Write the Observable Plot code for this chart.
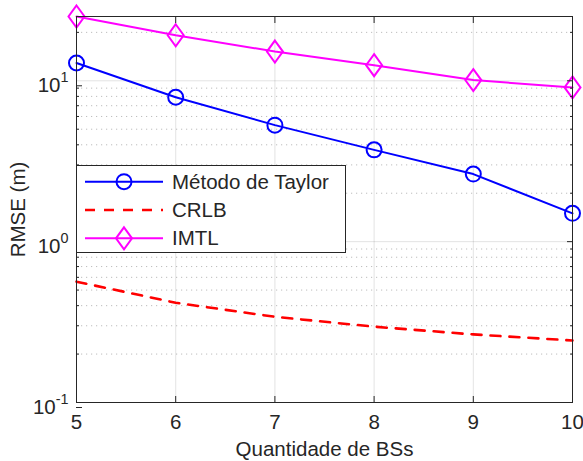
<!DOCTYPE html>
<html><head><meta charset="utf-8">
<script src="https://cdn.jsdelivr.net/npm/d3@7"></script>
<script src="https://cdn.jsdelivr.net/npm/@observablehq/plot@0.6"></script>
<style>
body{margin:0;background:#fff;}
#chart svg{display:block;}
</style></head><body><div id="chart"></div>
<script>
// ---- data ----
const bsCount = [5, 6, 7, 8, 9, 10];
const taylor = [12.9, 7.9, 5.3, 3.72, 2.63, 1.50];
const crlb = [0.564, 0.417, 0.341, 0.296, 0.265, 0.243];
const imtl = [25.1, 19.2, 15.2, 12.5, 10.1, 9.1];
const seriesNames = ["Método de Taylor", "CRLB", "IMTL"];
const yMajorTicks = [0.1, 1, 10];
const yTickExponents = ["-1", "0", "1"];
const yMinorTicks = [0.2, 0.3, 0.4, 0.5, 0.6, 0.7, 0.8, 0.9, 2, 3, 4, 5, 6, 7, 8, 9, 20];
const xLabel = "Quantidade de BSs";
const yLabel = "RMSE (m)";

const FONT = "'Liberation Sans', Arial, Helvetica, sans-serif";
const FS = 20.5;
const INK = "#262626";
const table = bsCount.map((x, i) => ({x, taylor: taylor[i], crlb: crlb[i], imtl: imtl[i]}));

const tallDiamond = {
  draw(ctx, size) {
    const r = Math.sqrt(size / Math.PI);
    const hw = r, hh = r * 1.375;
    ctx.moveTo(0, -hh); ctx.lineTo(hw, 0); ctx.lineTo(0, hh); ctx.lineTo(-hw, 0); ctx.closePath();
  }
};

const chart = Plot.plot({
  width: 583, height: 461,
  marginLeft: 76, marginRight: 11, marginTop: 16, marginBottom: 59,
  style: {fontFamily: FONT, fontSize: FS + "px", color: INK, background: "#fff"},
  x: {domain: [5, 10]},
  y: {type: "log", domain: [0.1, 25.1]},
  marks: [
    Plot.gridY(yMinorTicks, {stroke: INK, strokeOpacity: 0.3, strokeDasharray: "1.2,3.8"}),
    Plot.gridY(yMajorTicks, {stroke: INK, strokeOpacity: 0.13}),
    Plot.gridX(bsCount, {stroke: INK, strokeOpacity: 0.13}),
    Plot.line(table, {x: "x", y: "crlb", stroke: "#ff0000", strokeWidth: 2.6, strokeDasharray: "10,9"}),
    Plot.line(table, {x: "x", y: "taylor", stroke: "#0000ff", strokeWidth: 2}),
    Plot.dot(table, {x: "x", y: "taylor", r: 7.5, stroke: "#0000ff", strokeWidth: 2, fill: "none"}),
    Plot.line(table, {x: "x", y: "imtl", stroke: "#ff00ff", strokeWidth: 2}),
    Plot.dot(table, {x: "x", y: "imtl", r: 8, symbol: tallDiamond, stroke: "#ff00ff", strokeWidth: 2, fill: "none"}),
    Plot.frame({stroke: INK, strokeWidth: 1}),
    Plot.axisY(yMajorTicks, {anchor: "left", tickSize: -6, tickPadding: 14, dy: 5, label: null,
      tickFormat: d => yTickExponents[yMajorTicks.indexOf(d)]}),
    Plot.axisY(yMinorTicks, {anchor: "left", tickSize: -3, tickFormat: () => "", label: null}),
    Plot.axisY(yMajorTicks, {anchor: "right", tickSize: -6, tickFormat: () => "", label: null}),
    Plot.axisY(yMinorTicks, {anchor: "right", tickSize: -3, tickFormat: () => "", label: null}),
    Plot.axisX(bsCount, {anchor: "bottom", tickSize: -6, tickPadding: 18, label: null, tickFormat: d => String(d)}),
    Plot.axisX(bsCount, {anchor: "top", tickSize: -6, tickFormat: () => "", label: null}),
    Plot.text([xLabel], {frameAnchor: "bottom", lineAnchor: "middle", dy: 47, text: d => d, fill: INK, fontSize: FS}),
    Plot.text([yLabel], {frameAnchor: "left", lineAnchor: "middle", textAnchor: "middle", dx: -58, rotate: -90, text: d => d, fill: INK, fontSize: FS})
  ]
});

// superscript exponents on the log axis labels
d3.select(chart).selectAll('g[aria-label="y-axis tick label"] text').each(function () {
  const e = this.textContent;
  if (!e) return;
  const s = d3.select(this);
  s.text("10");
  s.append("tspan").attr("dy", "-0.7em").attr("font-size", "0.7em").text(e);
});

// legend box inside the axes
const lg = d3.select(chart).append("g").attr("font-family", FONT).attr("font-size", FS)
  .attr("fill", INK).attr("text-anchor", "start");
lg.append("rect").attr("x", 76.5).attr("y", 165.5).attr("width", 269).attr("height", 87)
  .attr("fill", "#fff").attr("stroke", INK).attr("stroke-width", 1);
const rowsY = [181.7, 210, 238.3];
const styles = [
  {stroke: "#0000ff", w: 2, dash: null, marker: "circle"},
  {stroke: "#ff0000", w: 2.6, dash: "10,9", marker: null},
  {stroke: "#ff00ff", w: 2, dash: null, marker: "diamond"}
];
seriesNames.forEach((name, i) => {
  const y = rowsY[i], st = styles[i];
  lg.append("line").attr("x1", 85).attr("x2", 163).attr("y1", y).attr("y2", y)
    .attr("stroke", st.stroke).attr("stroke-width", st.w).attr("stroke-dasharray", st.dash);
  if (st.marker === "circle") {
    lg.append("circle").attr("cx", 124).attr("cy", y).attr("r", 7.5).attr("fill", "none")
      .attr("stroke", st.stroke).attr("stroke-width", 2);
  } else if (st.marker === "diamond") {
    lg.append("path").attr("d", d3.symbol(tallDiamond, 64 * Math.PI)()).attr("transform", `translate(124,${y})`)
      .attr("fill", "none").attr("stroke", st.stroke).attr("stroke-width", 2);
  }
  lg.append("text").attr("x", 172).attr("y", y).attr("dy", "0.35em").text(name);
});

document.getElementById("chart").appendChild(chart);
</script>
</body></html>
